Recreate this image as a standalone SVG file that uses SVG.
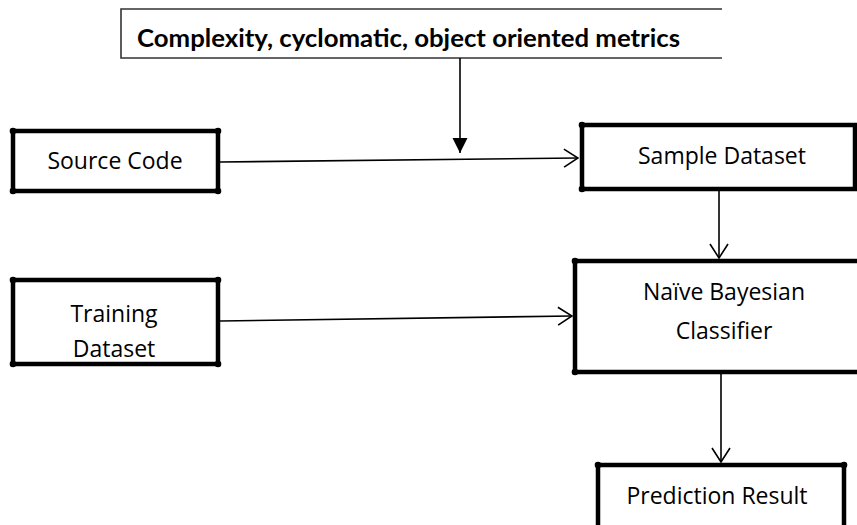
<svg xmlns="http://www.w3.org/2000/svg" width="857" height="525" viewBox="0 0 857 525">
  <defs>
    <marker id="open" viewBox="0 0 16 20" refX="15" refY="10" markerWidth="16" markerHeight="20" markerUnits="userSpaceOnUse" orient="auto">
      <path d="M1,1 L15,10 L1,19" fill="none" stroke="#000" stroke-width="1.6"/>
    </marker>
    <marker id="solid" viewBox="0 0 16 16" refX="15" refY="8" markerWidth="16" markerHeight="16" markerUnits="userSpaceOnUse" orient="auto">
      <path d="M0,0.5 L15,8 L0,15.5 Z" fill="#000"/>
    </marker>
  </defs>
  <style>
    .box { fill: none; stroke: #000; stroke-width: 4.5; stroke-linecap: round; }
    .dot { fill: #000; }
    .thin { fill: none; stroke: #333; stroke-width: 1.6; }
    .edge { fill: none; stroke: #000; stroke-width: 1.6; }
    .label { font-family: "Open Sans", "Noto Sans", "DejaVu Sans", sans-serif; font-size: 23px; fill: #000; text-anchor: middle; }
    .title { font-family: Lato, "Open Sans", "Liberation Sans", sans-serif; font-weight: bold; font-size: 24px; fill: #000; }
  </style>
  <rect width="857" height="525" fill="#fff"/>

  <!-- metrics banner (open on the right) -->
  <g id="metrics">
    <path class="thin" d="M722,9 L121,9 L121,58 L722,58"/>
    <text class="title" x="137" y="47" textLength="543" lengthAdjust="spacingAndGlyphs">Complexity, cyclomatic, object oriented metrics</text>
  </g>

  <g id="source-code">
    <path class="box" d="M13,131 L218,131 L218,191 L13,191 Z"/>
    <circle class="dot" cx="13" cy="131" r="3.3"/><circle class="dot" cx="218" cy="131" r="3.3"/>
    <circle class="dot" cx="13" cy="191" r="3.3"/><circle class="dot" cx="218" cy="191" r="3.3"/>
    <text class="label" x="115" y="169">Source Code</text>
  </g>

  <g id="sample-dataset">
    <path class="box" d="M582,125 L855,125 L855,189 L582,189 Z"/>
    <circle class="dot" cx="582" cy="125" r="3.3"/><circle class="dot" cx="582" cy="189" r="3.3"/>
    <text class="label" x="722" y="164">Sample Dataset</text>
  </g>

  <g id="training-dataset">
    <path class="box" d="M13,280 L218,280 L218,364 L13,364 Z"/>
    <circle class="dot" cx="13" cy="280" r="3.3"/><circle class="dot" cx="218" cy="280" r="3.3"/>
    <circle class="dot" cx="13" cy="364" r="3.3"/><circle class="dot" cx="218" cy="364" r="3.3"/>
    <text class="label" x="114" y="322">Training</text>
    <text class="label" x="114" y="357">Dataset</text>
  </g>

  <g id="naive-bayesian">
    <path class="box" d="M862,261 L575,261 L575,372 L862,372"/>
    <circle class="dot" cx="575" cy="261" r="3.3"/><circle class="dot" cx="575" cy="372" r="3.3"/>
    <text class="label" x="724" y="300">Naïve Bayesian</text>
    <text class="label" x="724" y="339">Classifier</text>
  </g>

  <g id="prediction-result">
    <path class="box" d="M598,530 L598,465 L844,465 L844,530"/>
    <circle class="dot" cx="598" cy="465" r="3.3"/><circle class="dot" cx="844" cy="465" r="3.3"/>
    <text class="label" x="717" y="504">Prediction Result</text>
  </g>

  <g id="connectors">
    <line class="edge" x1="460" y1="58" x2="460" y2="153" marker-end="url(#solid)"/>
    <line class="edge" x1="220" y1="162" x2="578" y2="158" marker-end="url(#open)"/>
    <line class="edge" x1="719" y1="191" x2="719" y2="258" marker-end="url(#open)"/>
    <line class="edge" x1="220" y1="321" x2="572" y2="316" marker-end="url(#open)"/>
    <line class="edge" x1="721" y1="374" x2="721" y2="462" marker-end="url(#open)"/>
  </g>
</svg>
